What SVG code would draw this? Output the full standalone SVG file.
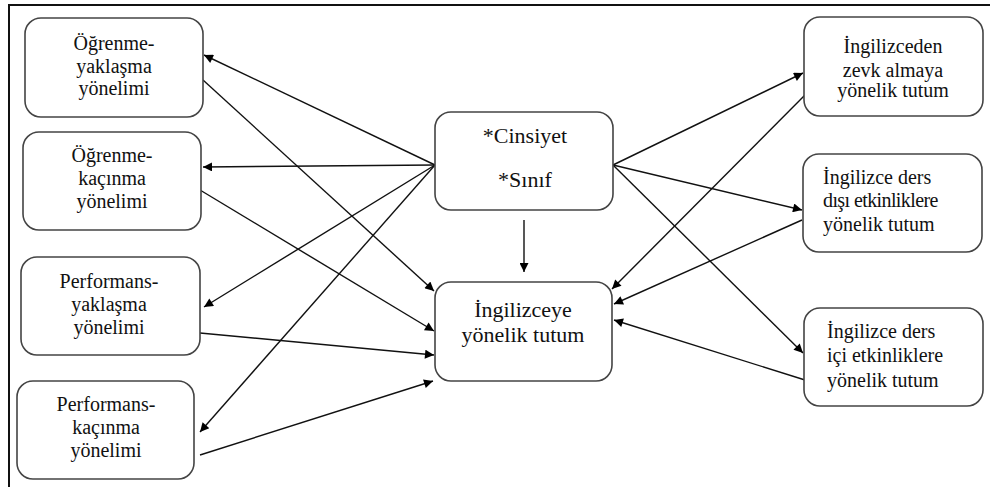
<svg xmlns="http://www.w3.org/2000/svg" width="990" height="487" viewBox="0 0 990 487">
<defs>
<marker id="ah" viewBox="0 0 10 10" refX="10" refY="5" markerWidth="11" markerHeight="9" markerUnits="userSpaceOnUse" orient="auto">
<path d="M0,0 L10,5 L0,10 z" fill="#000"/>
</marker>
<style>
.box{fill:#fff;stroke:#444;stroke-width:1.6}
.t{font-family:'Times New Roman','Liberation Serif','DejaVu Serif',serif;font-size:20px;fill:#111}
.c{text-anchor:middle}
.big{font-size:22px}
.ln{stroke:#111;stroke-width:1.4;fill:none}
.ar{marker-end:url(#ah)}
.frame{stroke:#111;stroke-width:2;fill:none}
</style>
</defs>
<rect width="990" height="487" fill="#fff"/>
<path class="frame" d="M9,487 L9,5 L990,5"/>

<g id="connectors">
<line class="ln ar" x1="435" y1="165" x2="204" y2="55"/>
<line class="ln ar" x1="435" y1="165" x2="203" y2="167"/>
<line class="ln ar" x1="435" y1="165" x2="204" y2="307"/>
<line class="ln ar" x1="435" y1="165" x2="200" y2="432"/>
<line class="ln ar" x1="203" y1="80" x2="434" y2="291"/>
<line class="ln ar" x1="200" y1="190" x2="434" y2="331"/>
<line class="ln ar" x1="200" y1="333" x2="434" y2="355"/>
<line class="ln ar" x1="200" y1="455" x2="433" y2="381"/>
<line class="ln ar" x1="613" y1="165" x2="803" y2="73"/>
<line class="ln ar" x1="613" y1="165" x2="802" y2="210"/>
<line class="ln ar" x1="613" y1="165" x2="803" y2="353"/>
<line class="ln ar" x1="805" y1="95" x2="612" y2="289"/>
<line class="ln ar" x1="802" y1="220" x2="614" y2="304"/>
<line class="ln ar" x1="805" y1="380" x2="614" y2="320"/>
<line class="ln ar" x1="524" y1="220" x2="524" y2="272"/>
</g>

<g id="n_ogr_yak">
<rect class="box" x="25" y="18" width="178" height="99" rx="16"/>
<text class="t c" x="114" y="50">Öğrenme-</text>
<text class="t c" x="114" y="73">yaklaşma</text>
<text class="t c" x="114" y="95">yönelimi</text>
</g>
<g id="n_ogr_kac">
<rect class="box" x="23" y="132" width="178" height="98" rx="16"/>
<text class="t c" x="112" y="162">Öğrenme-</text>
<text class="t c" x="112" y="185">kaçınma</text>
<text class="t c" x="112" y="208">yönelimi</text>
</g>
<g id="n_perf_yak">
<rect class="box" x="21" y="257" width="179" height="98" rx="16"/>
<text class="t c" x="109" y="288">Performans-</text>
<text class="t c" x="109" y="311">yaklaşma</text>
<text class="t c" x="109" y="334">yönelimi</text>
</g>
<g id="n_perf_kac">
<rect class="box" x="17" y="381" width="177" height="98" rx="16"/>
<text class="t c" x="106" y="411">Performans-</text>
<text class="t c" x="106" y="434">kaçınma</text>
<text class="t c" x="106" y="457">yönelimi</text>
</g>
<g id="n_demog">
<rect class="box" x="435" y="112" width="178" height="98" rx="16"/>
<text class="t c big" x="525" y="143">*Cinsiyet</text>
<text class="t c big" x="525" y="187">*Sınıf</text>
</g>
<g id="n_tutum">
<rect class="box" x="435" y="282" width="177" height="99" rx="16"/>
<text class="t c big" x="523" y="317">İngilizceye</text>
<text class="t c big" x="523" y="342">yönelik tutum</text>
</g>
<g id="n_zevk">
<rect class="box" x="804" y="17" width="179" height="99" rx="16"/>
<text class="t c" x="893" y="53">İngilizceden</text>
<text class="t c" x="893" y="77">zevk almaya</text>
<text class="t c" x="893" y="97">yönelik tutum</text>
</g>
<g id="n_disi">
<rect class="box" x="803" y="154" width="179" height="98" rx="16"/>
<text class="t" x="823" y="184">İngilizce ders</text>
<text class="t" x="823" y="207" letter-spacing="-0.6">dışı etkinliklere</text>
<text class="t" x="823" y="231">yönelik tutum</text>
</g>
<g id="n_ici">
<rect class="box" x="804" y="308" width="179" height="98" rx="16"/>
<text class="t" x="827" y="338">İngilizce ders</text>
<text class="t" x="827" y="362">içi etkinliklere</text>
<text class="t" x="827" y="387">yönelik tutum</text>
</g>
</svg>
